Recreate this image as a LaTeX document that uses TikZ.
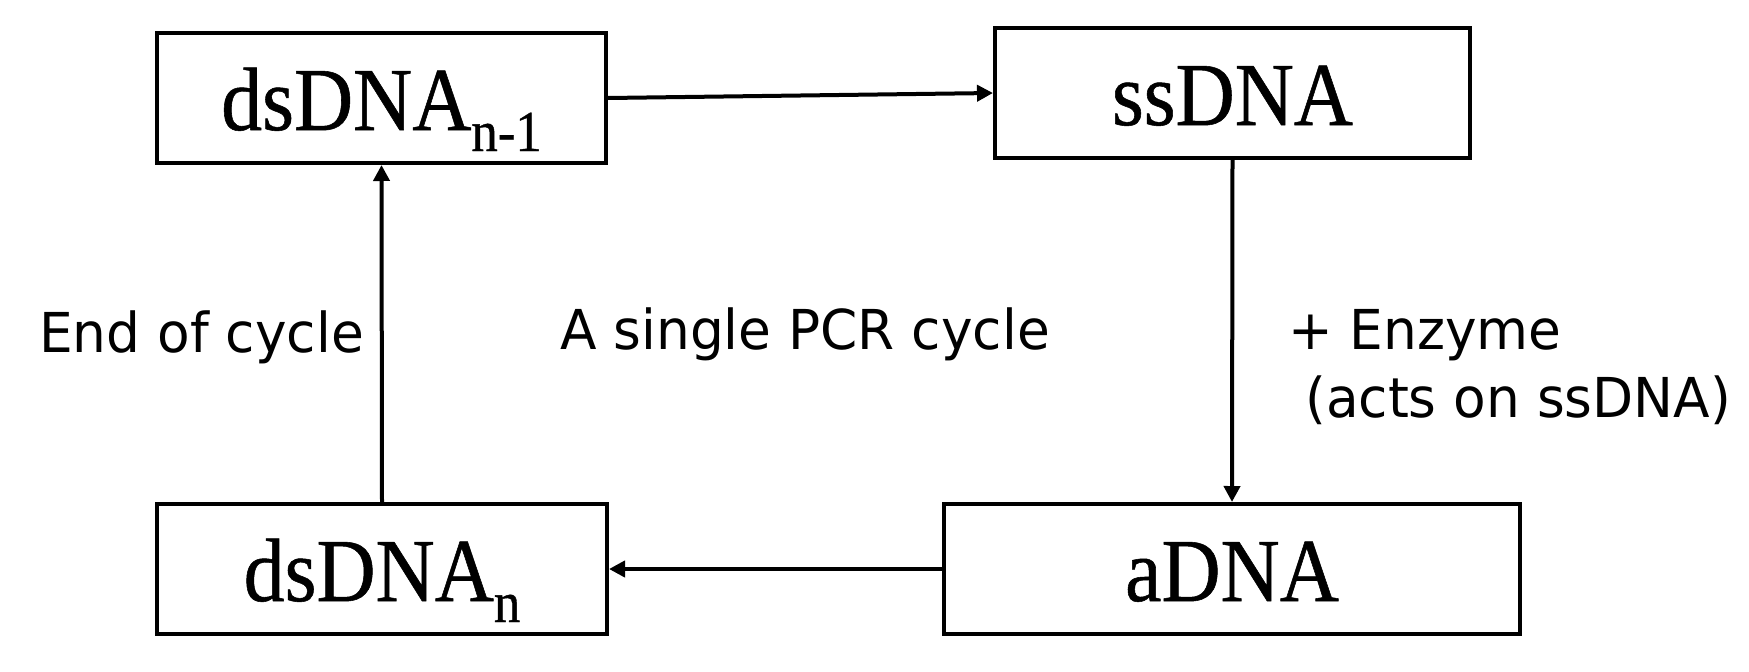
\documentclass[tikz,border=0pt]{standalone}
\usepackage{fontspec}
\usetikzlibrary{arrows.meta}
\newfontfamily\sansf[FakeStretch=0.97]{DejaVu Sans}
\newfontfamily\serf[FakeStretch=0.91,FakeBold=0.6]{Liberation Serif}
\newcommand{\subtxt}[1]{\raisebox{-21pt}{\fontsize{58}{58}\selectfont #1}}
\begin{document}
\begin{tikzpicture}[x=1pt,y=-1pt,
  box/.style={draw,line width=4pt,rectangle,minimum height=130pt,inner sep=0pt,
    font=\serf\fontsize{90}{90}\selectfont,text height=64pt,text depth=0pt},
  lbl/.style={anchor=base west,inner sep=0pt,font=\sansf\fontsize{55}{55}\selectfont},
  arr/.style={line width=4pt,-{Triangle[length=16pt,width=16pt]}}]
\useasboundingbox (0,0) rectangle (1749,672);
\node[box,minimum width=449pt] (dn1) at (381.5,98) {dsDNA\subtxt{n-1}};
\node[box,minimum width=475pt] (ss) at (1232.5,93) {ssDNA};
\node[box,minimum width=576pt] (a) at (1232,569) {aDNA};
\node[box,minimum width=450pt] (dn) at (382,569) {dsDNA\subtxt{n}};
\draw[arr] (dn1.east) -- (ss.west);
\draw[arr] (ss.south) -- (a.north);
\draw[arr] (a.west) -- (dn.east);
\draw[arr] (dn.north) -- (dn1.south);
\node[lbl] (end) at (39,352) {End of cycle};
\node[lbl] (single) at (560,349) {A single PCR cycle};
\node[lbl] (enz) at (1288,349) {+ Enzyme};
\node[lbl] (acts) at (1305,417) {(acts on ssDNA)};
\end{tikzpicture}
\end{document}
